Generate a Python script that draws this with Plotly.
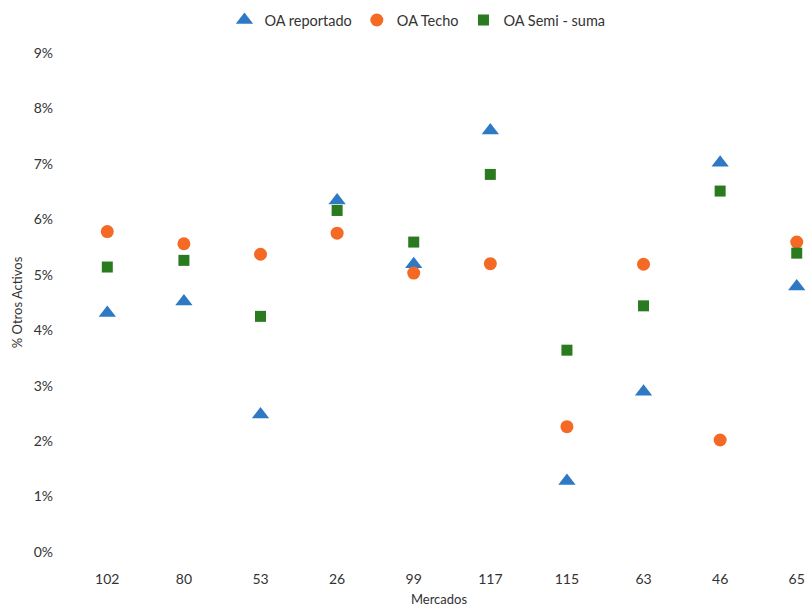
import plotly.graph_objects as go

mercados = ["102", "80", "53", "26", "99", "117", "115", "63", "46", "65"]
oa_reportado = [4.31, 4.52, 2.48, 6.34, 5.19, 7.60, 1.28, 2.89, 7.02, 4.79]
oa_techo = [5.78, 5.56, 5.37, 5.75, 5.03, 5.20, 2.26, 5.19, 2.02, 5.59]
oa_semisuma = [5.14, 5.26, 4.25, 6.16, 5.59, 6.81, 3.64, 4.44, 6.51, 5.39]
y_ticks = [0, 1, 2, 3, 4, 5, 6, 7, 8, 9]

FONT = "Lato, Open Sans, sans-serif"
TXT = "#333333"

fig = go.Figure()
fig.add_trace(go.Scatter(x=mercados, y=[v / 100 for v in oa_reportado], mode="markers",
                         name="OA reportado",
                         marker=dict(symbol="triangle-up", size=15, color="#2F78C4")))
fig.add_trace(go.Scatter(x=mercados, y=[v / 100 for v in oa_techo], mode="markers",
                         name="OA Techo",
                         marker=dict(symbol="circle", size=13, color="#F46A25")))
fig.add_trace(go.Scatter(x=mercados, y=[v / 100 for v in oa_semisuma], mode="markers",
                         name="OA Semi - suma",
                         marker=dict(symbol="square", size=11, color="#2A7A20")))

fig.update_layout(
    width=809, height=614,
    margin=dict(l=69, r=0, t=53, b=62, autoexpand=False),
    paper_bgcolor="white", plot_bgcolor="white",
    font=dict(family=FONT, size=13, color=TXT),
    showlegend=True,
    legend=dict(orientation="h", xref="container", yref="paper",
                x=0.516, xanchor="center", y=1.066, yanchor="middle",
                font=dict(size=14.5, color=TXT), itemwidth=30,
                tracegroupgap=0),
    xaxis=dict(type="category", range=[-0.5, 9.16], showgrid=False, showline=False,
               zeroline=False, ticks="", ticklabelstandoff=17, automargin=False,
               tickfont=dict(size=14, color=TXT),
               title=dict(text="Mercados", font=dict(size=13, color=TXT), standoff=8)),
    yaxis=dict(range=[0, 0.09], tickvals=[t / 100 for t in y_ticks],
               ticktext=[f"{t}%" for t in y_ticks],
               showgrid=False, showline=False, zeroline=False, ticks="",
               ticklabelstandoff=15, automargin=False,
               tickfont=dict(size=14, color=TXT),
               title=dict(text="% Otros Activos", font=dict(size=13, color=TXT), standoff=8)),
)

fig.write_html("out.html", config={"displayModeBar": False},
               post_script="document.body.style.margin='0';document.body.style.overflow='hidden';")
